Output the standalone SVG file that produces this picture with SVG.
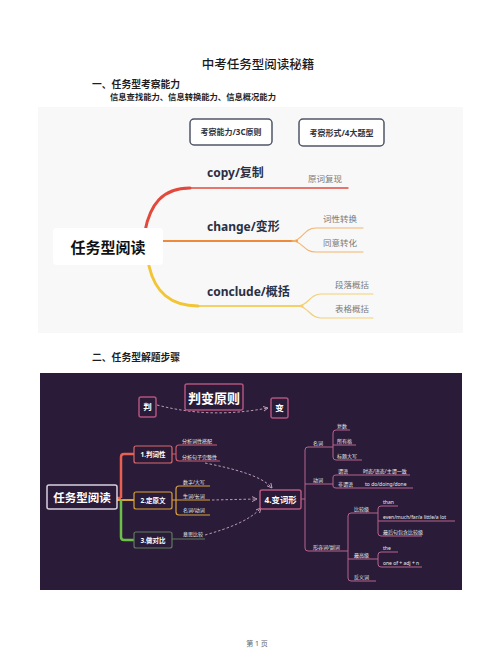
<svg xmlns="http://www.w3.org/2000/svg" width="500" height="667" viewBox="0 0 500 667">
<defs>
<style>
.cjk{font-family:"Noto Sans","Noto Sans CJK SC",sans-serif}
.h{fill:#1e1e1e;font-weight:bold}
.tb{fill:#fff;stroke:#4f5565;stroke-width:1.5}
.tbt{font-size:8px;font-weight:bold;fill:#2e3340;text-anchor:middle}
.br{font-size:12px;font-weight:bold;fill:#2a2f45}
.leaf{font-size:8.5px;fill:#7a7a7a}
.wt{fill:#fff}
.pk{fill:none;stroke:#b0527c;stroke-width:1.5}
.ln{fill:none;stroke:#b8628d;stroke-width:1}
.sm{font-size:5px;fill:#eee}
.bx{font-size:6.5px;font-weight:bold;fill:#fff;text-anchor:middle}
.dash{fill:none;stroke:#c9a7bf;stroke-width:0.9;stroke-dasharray:2.5 2}
</style>
<marker id="ah" markerWidth="6" markerHeight="6" refX="5" refY="3" orient="auto" markerUnits="userSpaceOnUse">
<path d="M0,0.5 L5,3 L0,5.5" fill="none" stroke="#c9a7bf" stroke-width="0.9"/>
</marker>
</defs>
<rect width="500" height="667" fill="#fff"/>

<g id="headings" class="cjk">
<text x="258" y="69" font-size="12.5" text-anchor="middle" fill="#1a1a1a" font-weight="500">中考任务型阅读秘籍</text>
<text x="92" y="88" font-size="9.8" class="h">一、任务型考察能力</text>
<text x="110" y="99.5" font-size="8.3" class="h">信息查找能力、信息转换能力、信息概况能力</text>
<text x="92" y="361" font-size="9.8" class="h">二、任务型解题步骤</text>
<text x="257" y="646" font-size="7" text-anchor="middle" fill="#666">第 1 页</text>
</g>

<rect x="38" y="107" width="425" height="226" fill="#f8f8f8"/>

<g id="connectors-top" fill="none" stroke-linecap="round">
<path d="M145 231 C150 205 162 188 190 188" stroke="#e2493c" stroke-width="3"/>
<path d="M189 188 L348 188" stroke="#e2493c" stroke-width="1.3"/>
<path d="M163 241 L297 241" stroke="#ee8a3c" stroke-width="2"/>
<path d="M292 241 C303 241 303 228 316 228 L363 228" stroke="#f3b46c" stroke-width="1.1"/>
<path d="M292 241 C303 241 303 252 316 252 L363 252" stroke="#f3b46c" stroke-width="1.1"/>
<path d="M149 266 C155 292 170 306 198 306" stroke="#f1c534" stroke-width="3"/>
<path d="M197 306 L303 306" stroke="#f1c534" stroke-width="1.3"/>
<path d="M297 306 C309 306 309 294 321 294 L373 294" stroke="#f4cf72" stroke-width="1.1"/>
<path d="M297 306 C309 306 309 318 321 318 L373 318" stroke="#f4cf72" stroke-width="1.1"/>
</g>

<g id="top-nodes" class="cjk">
<g id="n-3c"><rect class="tb" x="190" y="119" width="82" height="26" rx="4"/><text class="tbt" x="231" y="135">考察能力/3C原则</text></g>
<g id="n-4types"><rect class="tb" x="299" y="119" width="85" height="27" rx="4"/><text class="tbt" x="341.5" y="135.5">考察形式/4大题型</text></g>
<g id="n-root-top"><rect x="53" y="228" width="110" height="37" rx="4" fill="#fff"/><text x="108" y="252.5" font-size="15" font-weight="bold" fill="#111" text-anchor="middle">任务型阅读</text></g>
<g id="n-copy"><text class="br" x="207" y="177">copy/复制</text></g>
<g id="n-change"><text class="br" x="207" y="231">change/变形</text></g>
<g id="n-conclude"><text class="br" x="207" y="296">conclude/概括</text></g>
<g id="l-1"><text class="leaf" x="308" y="182">原词复现</text></g>
<g id="l-2"><text class="leaf" x="323" y="222">词性转换</text></g>
<g id="l-3"><text class="leaf" x="323" y="246">同意转化</text></g>
<g id="l-4"><text class="leaf" x="335" y="288">段落概括</text></g>
<g id="l-5"><text class="leaf" x="335" y="312">表格概括</text></g>
</g>

<rect x="40" y="373" width="422" height="217" fill="#2a1c38"/>

<g id="connectors-bottom" fill="none">
<path d="M117 498 L121 498" stroke="#e8604f" stroke-width="2.5"/>
<path d="M121 498 L121 457 Q121 454 124 454 L134 454" stroke="#e8604f" stroke-width="2.5"/>
<path d="M117 500 L134 500" stroke="#d9a13a" stroke-width="2"/>
<path d="M121 499 L121 537 Q121 540 124 540 L134 540" stroke="#6cc04a" stroke-width="2.5"/>
<path d="M172 454 L176 454 M176 448 L176 458 M176 448 Q176 445 179 445 L217 445 M176 458 Q176 461 179 461 L220 461" stroke="#c95a6e" stroke-width="1.2"/>
<path d="M172 500 L210 500 M176 489 L176 512 M176 489 Q176 486 179 486 L210 486 M176 512 Q176 515 179 515 L210 515" stroke="#d9a13a" stroke-width="1.2"/>
<path d="M172 539 L205 539" stroke="#5f7a5a" stroke-width="1.2"/>
<path class="dash" d="M157 405 C200 416 235 414 268 408" marker-end="url(#ah)"/>
<path class="dash" d="M205 463 C235 469 262 476 272 488" marker-end="url(#ah)"/>
<path class="dash" d="M212 500 L257 499" marker-end="url(#ah)"/>
<path class="dash" d="M205 535 C230 528 250 520 261 508" marker-end="url(#ah)"/>
<g class="ln">
<path d="M301 499 L305 499 M305 450 L305 548 M305 450 Q305 447 308 447 L333 447 M305 484 L333 484 M305 548 Q305 551 308 551 L348 551"/>
<path d="M333 433 L333 457 M333 433 Q333 430 336 430 L350 430 M333 445 L356 445 M333 457 Q333 460 336 460 L362 460"/>
<path d="M333 477 L333 486 M333 477 Q333 475 336 475 L410 475 M333 486 Q333 488 336 488 L413 488"/>
<path d="M348 516 L348 578 M348 516 Q348 513 351 513 L376 513 M348 559 L376 559 M348 578 Q348 581 351 581 L376 581"/>
<path d="M378 509 L378 533 M376 513 L378 513 M378 509 Q378 506 381 506 L398 506 M378 521 L455 521 M378 533 Q378 536 381 536 L422 536"/>
<path d="M378 555 L378 564 M376 559 L378 559 M378 555 Q378 552 381 552 L398 552 M378 564 Q378 567 381 567 L422 567"/>
</g>
</g>

<g id="bottom-nodes" class="cjk">
<g id="b-rule"><rect class="pk" x="185" y="384" width="58" height="26" rx="2"/><text x="214" y="402.5" font-size="13" font-weight="bold" class="wt" text-anchor="middle">判变原则</text></g>
<g id="b-pan"><rect class="pk" x="139" y="397" width="17" height="20" rx="2"/><text x="147.5" y="410" font-size="8.5" font-weight="bold" class="wt" text-anchor="middle">判</text></g>
<g id="b-bian"><rect class="pk" x="271" y="398" width="17" height="20" rx="2"/><text x="279.5" y="411" font-size="8.5" font-weight="bold" class="wt" text-anchor="middle">变</text></g>
<g id="b-root"><rect x="47" y="485" width="70" height="24" rx="2" fill="none" stroke="#d8cfe0" stroke-width="1.5"/><text x="82" y="501.5" font-size="11.5" font-weight="bold" class="wt" text-anchor="middle">任务型阅读</text></g>
<g id="b-1"><rect x="134" y="446" width="38" height="17" rx="2" fill="none" stroke="#d9686a" stroke-width="1.2"/><text class="bx" x="153" y="457">1.判词性</text></g>
<g id="b-2"><rect x="134" y="492" width="38" height="17" rx="2" fill="none" stroke="#d9a13a" stroke-width="1.2"/><text class="bx" x="153" y="503">2.定原文</text></g>
<g id="b-3"><rect x="134" y="532" width="38" height="16" rx="2" fill="none" stroke="#617a5e" stroke-width="1.2"/><text class="bx" x="153" y="542.5">3.做对比</text></g>
<g id="b-4"><rect x="260" y="490" width="41" height="19" rx="2" fill="none" stroke="#b5577f" stroke-width="1.5"/><text x="280.5" y="502.5" font-size="8.3" font-weight="bold" class="wt" text-anchor="middle">4.变词形</text></g>
<g id="b-leaves" class="sm">
<text x="182" y="442.5">分析词性搭配</text>
<text x="182" y="458.5">分析句子完整性</text>
<text x="183" y="483.5">数字/大写</text>
<text x="183" y="497.5">生词/长词</text>
<text x="183" y="512">名词/动词</text>
<text x="183" y="536">意思比较</text>
<text x="313" y="444.5">名词</text>
<text x="337" y="427.5">复数</text>
<text x="337" y="442.5">所有格</text>
<text x="337" y="457.5">标题大写</text>
<text x="313" y="481.5">动词</text>
<text x="338" y="472.5">谓语</text>
<text x="363" y="472.5">时态/语态/主谓一致</text>
<text x="338" y="485.5">非谓语</text>
<text x="365" y="485.5">to do/doing/done</text>
<text x="313" y="548.5">形容词/副词</text>
<text x="354" y="510.5">比较级</text>
<text x="354" y="556.5">最高级</text>
<text x="354" y="578.5">反义词</text>
<text x="383" y="503.5">than</text>
<text x="383" y="518.5">even/much/far/a little/a lot</text>
<text x="383" y="533.5">最后句包含比较级</text>
<text x="383" y="549.5">the</text>
<text x="383" y="564.5">one of + adj + n</text>
</g>
</g>
</svg>
